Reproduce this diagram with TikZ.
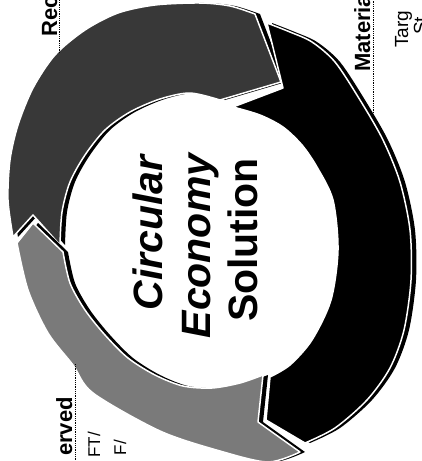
\documentclass[tikz,border=0pt]{standalone}
\usepackage{fontspec}
\setmainfont{Liberation Sans}

\begin{document}
\begin{tikzpicture}[x=1pt, y=-1pt, line join=round]
\tikzstyle{segment} = [draw=white, line width=1.5pt]
\tikzstyle{shadow} = [fill=black, xshift=5pt]
\tikzstyle{leader} = [densely dotted, line width=0.8pt]
\tikzstyle{title} = [rotate=90, inner sep=0pt, font=\fontsize{41}{47}\selectfont\bfseries]
\tikzstyle{head} = [rotate=90, inner sep=0pt, font=\fontsize{22}{26}\selectfont\bfseries]
\tikzstyle{note} = [rotate=90, inner sep=0pt, font=\fontsize{17}{20}\selectfont]

% the three arrows of the ring, each from its notch to its head
\def\topseg{(13,237) -- (33,215) -- (60,245)
  -- plot[smooth] coordinates {(60,245) (62,212) (70,182) (85,155) (105,130) (130,112) (160,99) (190,93) (220,100)}
  -- (281,82) -- (255,14)
  -- plot[smooth] coordinates {(255,14) (230,6) (200,3) (155,5) (118,13) (85,30) (55,55) (33,88) (18,125) (10,160) (8,200) (13,237)}
  -- cycle}
\def\rightseg{(267,23) -- (283,88) -- (233,107)
  -- plot[smooth] coordinates {(233,107) (260,115) (283,127) (302,145) (317,167) (333,200) (338,250) (331,300) (312,340) (290,365) (270,377)}
  -- (266,420) -- (305,443)
  -- plot[smooth] coordinates {(305,443) (335,428) (367,400) (390,368) (404,330) (411,280) (410,230) (400,182) (383,140) (360,100) (335,62) (312,42) (290,32) (267,23)}
  -- cycle}
\def\bottomseg{(300,452) -- (258,422) -- (263,375)
  -- plot[smooth] coordinates {(263,375) (240,383) (212,388) (183,386) (155,375) (128,358) (105,335) (85,310) (70,283) (63,252)}
  -- (33,223) -- (17,243)
  -- plot[smooth] coordinates {(17,243) (28,290) (48,333) (73,365) (93,393) (160,431) (220,451) (268,462) (300,452)}
  -- cycle}

\useasboundingbox (0,0) rectangle (421,461);
\clip (0,0) rectangle (421,461);
\fill[white] (0,0) rectangle (421,461);

\fill[shadow] \topseg;
\filldraw[segment, fill=black!78] \topseg;
\fill[shadow] \bottomseg;
\filldraw[segment, fill=black!52] \bottomseg;
\fill[shadow] \rightseg;
\filldraw[segment, fill=black] \rightseg;

% text in the middle
\node[title, anchor=base] (circular) at (162,233) {\itshape Circular};
\node[title, anchor=base] (economy) at (210,246) {\itshape Economy};
\node[title, anchor=base] (solution) at (257,240) {Solution};

% labels round the ring
\node[head, anchor=base west] (rec) at (57,37) {Rec};
\node[head, anchor=base west] (materia) at (370,72) {Materia};
\node[note, anchor=base west, font=\fontsize{19}{22}\selectfont] (targ) at (408,48) {Targ};
\node[note, anchor=base west, font=\fontsize{19}{22}\selectfont] (targtwo) at (427,35) {St};
\node[head, anchor=base east] (erved) at (72,397) {erved};
\node[note, anchor=base east] (ftline) at (100,432) {FT/};
\node[note, anchor=base east] (fline) at (126,440) {F/};

\coordinate (recfoot) at (59,53);
\coordinate (rectop) at (59,0);
\coordinate (materiafoot) at (373,113);
\coordinate (materiatop) at (373,0);
\coordinate (ervedfoot) at (75,364);
\coordinate (ervedend) at (75,461);
\draw[leader] (recfoot) -- (rectop);
\draw[leader] (materiafoot) -- (materiatop);
\draw[leader] (ervedfoot) -- (ervedend);

\end{tikzpicture}
\end{document}
